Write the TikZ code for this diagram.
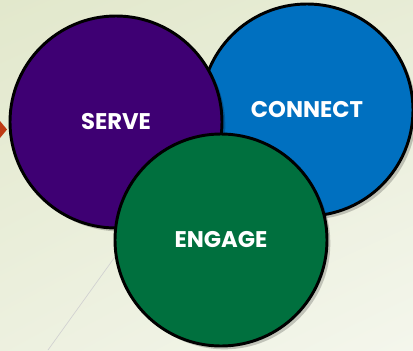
\documentclass[tikz,border=0pt]{standalone}
\usepackage{fontspec}
\newfontfamily\ringfont{Poppins}
\usetikzlibrary{shadows,shadings}

\definecolor{paperTL}{HTML}{E2E8CC}
\definecolor{paperBR}{HTML}{F4F6EC}
\definecolor{servePurple}{HTML}{3E0073}
\definecolor{connectBlue}{HTML}{0070C0}
\definecolor{engageGreen}{HTML}{00703E}
\definecolor{bulletRed}{HTML}{BE3A14}

\begin{document}
\begin{tikzpicture}[
			x=0.75pt, y=-0.75pt,
			ring/.style={
				circle, draw=black, line width=2.2pt,
				minimum size=159pt, inner sep=0pt,
				drop shadow={shadow xshift=2.5pt, shadow yshift=-2.5pt, opacity=0.2, fill=black}
			},
			lbl/.style={text=white, font=\ringfont\fontsize{17}{20}\selectfont\bfseries},
			deco/.style={draw=black!18, line width=0.5pt}
			]
			
			%% ── Slide background ───────────────────────────────────────────────
			\shade[upper left=paperTL, upper right=paperTL!70!paperBR,
				lower left=paperTL!40!paperBR, lower right=paperBR]
				(0,0) rectangle (413,350);
			\useasboundingbox (0,0) rectangle (413,350);
			
			%% ── Faint rule and bullet from the slide ───────────────────────────
			\coordinate (ruleA) at (48,350);
			\coordinate (ruleB) at (140,222);
			\draw[deco] (ruleA) -- (ruleB);
			\fill[bulletRed] (0,121) -- (7,129.5) -- (0,138) -- cycle;
			
			%% ── Three rings ────────────────────────────────────────────────────
			\node[ring, fill=connectBlue] (connect) at (307,110) {};
			\node[ring, fill=servePurple] (serve) at (116,122) {};
			\node[ring, fill=engageGreen] (engage) at (221,240) {};
			
			\node[lbl] (lblServe) at (serve.center) {SERVE};
			\node[lbl] (lblConnect) at (connect.center) {CONNECT};
			\node[lbl] (lblEngage) at (engage.center) {ENGAGE};
			
		\end{tikzpicture}
\end{document}
